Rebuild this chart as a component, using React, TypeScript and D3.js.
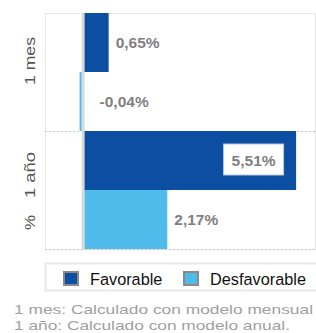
import React, { useEffect, useRef } from "react";
import * as d3 from "d3";

const categories = ["1 mes", "1 año"];
const seriesNames = ["Favorable", "Desfavorable"];
const favorable = [0.65, 5.51];
const desfavorable = [-0.04, 2.17];
const seriesColors = ["#0b4ea2", "#4fbbeb"];
const axisTitle = "%";
const footnotes = [
  "1 mes: Calculado con modelo mensual",
  "1 año: Calculado con modelo anual.",
];

const fmt = (v: number) => v.toFixed(2).replace(".", ",") + "%";
const FONT = "Liberation Sans, Arial, sans-serif";

const App = () => {
  const ref = useRef<SVGSVGElement>(null);

  useEffect(() => {
    const svg = d3.select(ref.current);
    svg.selectAll("*").remove();

    const width = 316;
    const height = 333;
    const plot = { left: 45, right: 315, top: 13, bottom: 249 };

    const x = d3.scaleLinear().domain([-1, 6]).range([plot.left, plot.right]);
    const y = d3
      .scaleBand()
      .domain(categories)
      .range([plot.top, plot.bottom])
      .padding(0);
    const inner = d3
      .scaleBand()
      .domain(seriesNames)
      .range([0, y.bandwidth()])
      .padding(0);

    const rows = categories.flatMap((c, i) => [
      { cat: c, series: seriesNames[0], value: favorable[i], color: seriesColors[0] },
      { cat: c, series: seriesNames[1], value: desfavorable[i], color: seriesColors[1] },
    ]);

    svg.attr("width", width).attr("height", height);
    svg.append("rect").attr("width", width).attr("height", height).attr("fill", "#fff");

    // plot frame
    svg
      .append("rect")
      .attr("x", plot.left + 0.5)
      .attr("y", plot.top + 0.5)
      .attr("width", plot.right - plot.left)
      .attr("height", plot.bottom - plot.top)
      .attr("fill", "none")
      .attr("stroke", "#e6e6e6");

    // dotted category separators
    const seps = [y(categories[1])!, plot.bottom];
    svg
      .selectAll(".sep")
      .data(seps)
      .enter()
      .append("line")
      .attr("x1", plot.left)
      .attr("x2", plot.right + 1)
      .attr("y1", (d) => d + 0.5)
      .attr("y2", (d) => d + 0.5)
      .attr("stroke", "#c8c8c8")
      .attr("stroke-dasharray", "2,2");

    // zero line
    svg
      .append("rect")
      .attr("x", x(0) - 2)
      .attr("y", plot.top)
      .attr("width", 3)
      .attr("height", plot.bottom - plot.top)
      .attr("fill", "#d9d9d9");

    // bars
    svg
      .selectAll(".bar")
      .data(rows)
      .enter()
      .append("rect")
      .attr("x", (d) => (d.value >= 0 ? x(0) + 1 : x(0) - 4))
      .attr("width", (d) => (d.value >= 0 ? x(d.value) - x(0) - 1 : 2))
      .attr("y", (d) => y(d.cat)! + inner(d.series)!)
      .attr("height", inner.bandwidth())
      .attr("fill", (d) => d.color);

    // value labels
    rows.forEach((d) => {
      const cy = y(d.cat)! + inner(d.series)! + inner.bandwidth() / 2;
      const barEnd = x(d.value);
      const inside = barEnd - x(0) > 150;
      const label = svg
        .append("text")
        .attr("y", cy)
        .attr("dy", "0.35em")
        .attr("font-family", FONT)
        .attr("font-weight", "bold")
        .attr("font-size", 15.5)
        .attr("fill", "#7f7f7f")
        .text(fmt(d.value));
      if (inside) {
        svg
          .insert("rect", "text")
          .attr("x", barEnd - 72.5)
          .attr("y", cy - 16.5)
          .attr("width", 60)
          .attr("height", 31)
          .attr("fill", "#fff")
          .attr("stroke", "#b8c8de");
        label.attr("x", barEnd - 42.5).attr("text-anchor", "middle");
      } else {
        label.attr("x", d.value >= 0 ? barEnd + 7 : x(0) + 16);
      }
    });

    // category labels (rotated, stretched along their length like the original)
    const catShift = [11, 15];
    const catLen = [48, 46];
    svg
      .selectAll(".cat")
      .data(categories)
      .enter()
      .append("text")
      .attr(
        "transform",
        (d, i) => `translate(30,${y(d)! + y.bandwidth() / 2 - catShift[i]}) rotate(-90)`
      )
      .attr("x", (d, i) => -catLen[i] / 2)
      .attr("dy", "0.35em")
      .attr("textLength", (d, i) => catLen[i])
      .attr("lengthAdjust", "spacingAndGlyphs")
      .attr("font-family", FONT)
      .attr("font-size", 14.5)
      .attr("fill", "#555")
      .text((d) => d);

    svg
      .append("text")
      .attr("transform", `translate(30,222.5) rotate(-90)`)
      .attr("x", -7.5)
      .attr("dy", "0.35em")
      .attr("textLength", 15)
      .attr("lengthAdjust", "spacingAndGlyphs")
      .attr("font-family", FONT)
      .attr("font-size", 14.5)
      .attr("fill", "#555")
      .text(axisTitle);

    // legend
    svg
      .append("rect")
      .attr("x", 45.5)
      .attr("y", 263.5)
      .attr("width", 272)
      .attr("height", 27)
      .attr("fill", "#fff")
      .attr("stroke", "#e8e8e8")
      .attr("stroke-width", 2);
    const legendX = [63, 183];
    seriesNames.forEach((s, i) => {
      svg
        .append("rect")
        .attr("x", legendX[i] + 1)
        .attr("y", 272)
        .attr("width", 14)
        .attr("height", 13)
        .attr("fill", seriesColors[i])
        .attr("stroke", "#8a8a8a")
        .attr("stroke-width", 2);
      svg
        .append("text")
        .attr("x", legendX[i] + 27)
        .attr("y", 285)
        .attr("font-family", FONT)
        .attr("font-size", 16.3)
        .attr("fill", "#111")
        .text(s);
    });

    // footnotes (wide rendering, as in the original)
    const noteLen = [299, 276];
    svg
      .selectAll(".note")
      .data(footnotes)
      .enter()
      .append("text")
      .attr("x", 14)
      .attr("y", (d, i) => 314 + i * 16)
      .attr("textLength", (d, i) => noteLen[i])
      .attr("lengthAdjust", "spacingAndGlyphs")
      .attr("font-family", FONT)
      .attr("font-size", 12.8)
      .attr("fill", "#a0a0a0")
      .text((d) => d);
  }, []);

  return (
    <svg
      ref={ref}
      style={{ position: "absolute", left: 0, top: 0, display: "block" }}
    />
  );
};

export default App;
